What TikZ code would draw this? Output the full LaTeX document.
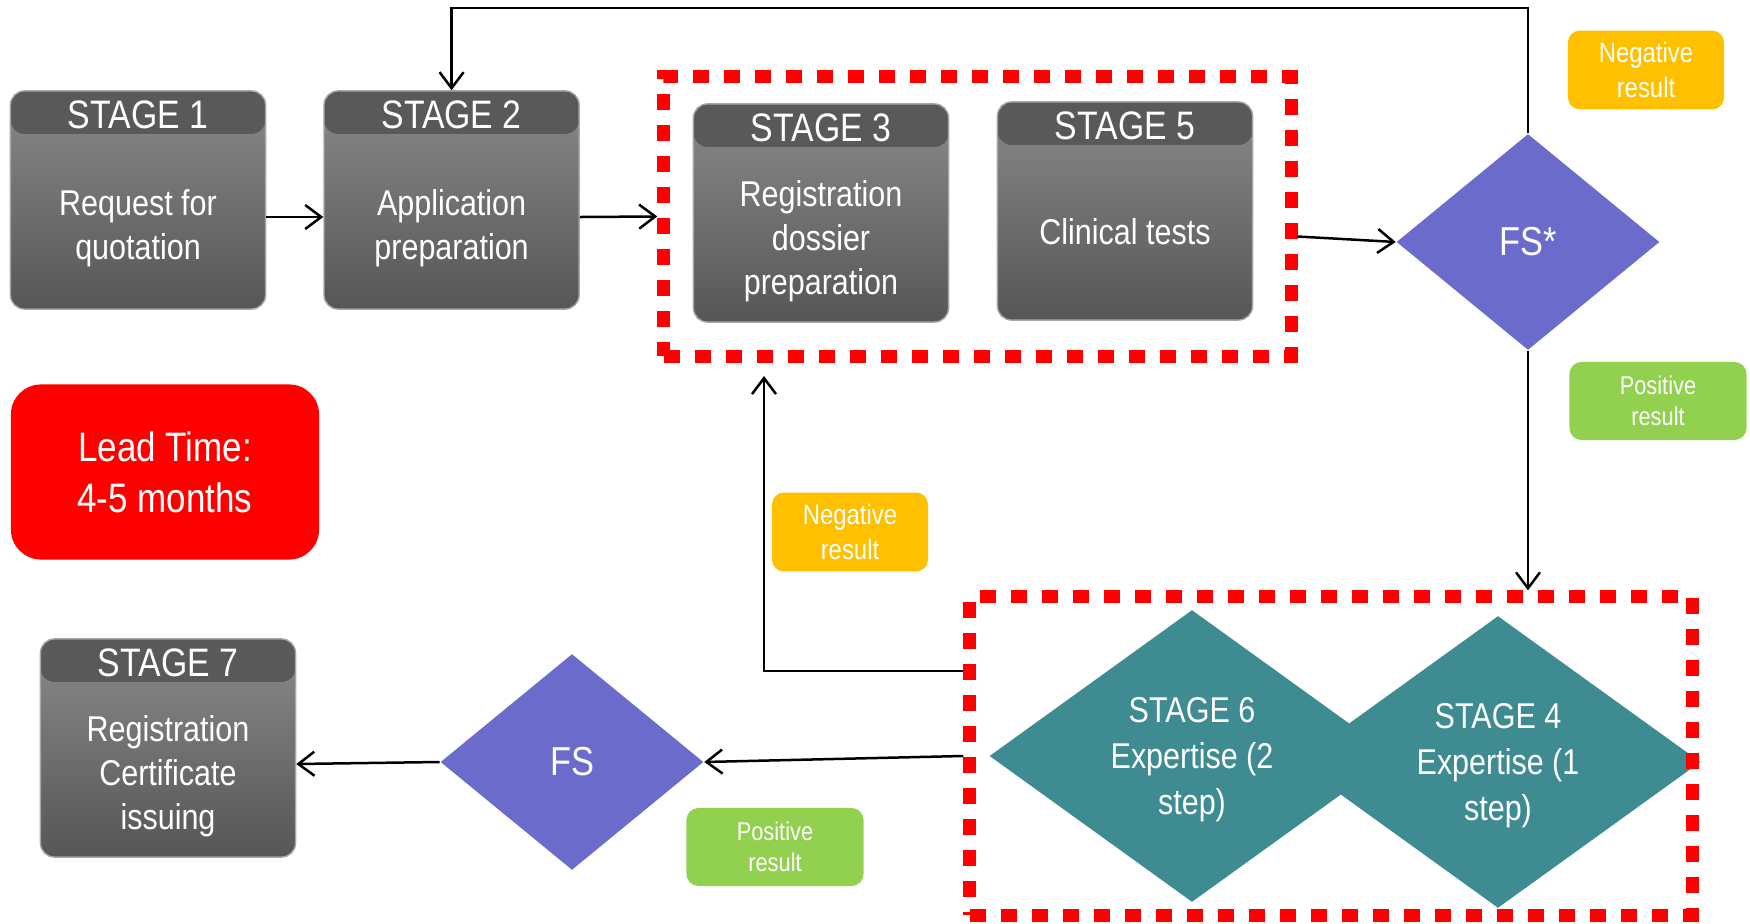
\documentclass[tikz,border=0pt]{standalone}
\usepackage{fontspec}
\setmainfont{Liberation Sans}[FakeStretch=0.85]
\usepackage{xcolor}
\usepackage{tikz}
\usetikzlibrary{shapes.geometric, arrows.meta, positioning, calc}

\definecolor{headgray}{HTML}{595959}
\definecolor{bodytop}{HTML}{8A8A8A}
\definecolor{bodybot}{HTML}{565656}
\definecolor{fsblue}{HTML}{6B6BCC}
\definecolor{expteal}{HTML}{3E8C92}
\definecolor{negorange}{HTML}{FFC000}
\definecolor{posgreen}{HTML}{92D050}

\begin{document}
\begin{tikzpicture}[
    x=0.01cm, y=-0.01cm,
    stage/.style={rectangle, rounded corners=4pt, draw=gray!70, line width=0.4pt, top color=bodytop, bottom color=bodybot, minimum width=2.55cm, minimum height=2.18cm, inner sep=0pt,
        path picture={\fill[headgray] (path picture bounding box.north west) rectangle ([yshift=-0.43cm]path picture bounding box.north east);}},
    stagehead/.style={text=white, minimum height=0.43cm, inner sep=0pt, yshift=-0.02cm, font=\fontsize{11.3}{13}\selectfont},
    stagetext/.style={text=white, align=center, inner sep=0pt, yshift=-0.05cm, font=\fontsize{10.2}{12.4}\selectfont},
    decision/.style={diamond, fill=fsblue, minimum width=2.63cm, minimum height=2.16cm, inner sep=0pt, text=white, font=\fontsize{11.5}{13}\selectfont},
    expert/.style={diamond, fill=expteal, minimum width=4.05cm, minimum height=2.92cm, inner sep=0pt, text=white, align=center, text depth=0pt, font=\fontsize{10.2}{13}\selectfont},
    group/.style={rectangle, draw=red, line width=0.13cm, dash pattern=on 0.16cm off 0.15cm, inner sep=0pt},
    negative/.style={rectangle, rounded corners=0.12cm, fill=negorange, text=white, align=center, minimum width=1.56cm, minimum height=0.77cm, font=\fontsize{8}{9.9}\selectfont},
    positive/.style={rectangle, rounded corners=0.12cm, fill=posgreen, text=white, align=center, minimum width=1.77cm, minimum height=0.78cm, font=\fontsize{7.3}{8.9}\selectfont},
    arrow/.style={-{Straight Barb[length=0.16cm, width=0.24cm]}, line width=0.025cm}
]
\useasboundingbox (0,0) rectangle (1750,924);

% Stages
\node[stage] (s1) at (138,200) {};
\node[stagehead, below=0pt of s1.north] (s1head) {STAGE 1};
\node[stagetext] (s1body) at ($(s1head.south)!0.5!(s1.south)$) {Request for\\quotation};

\node[stage, right=0.57cm of s1] (s2) {};
\node[stagehead, below=0pt of s2.north] (s2head) {STAGE 2};
\node[stagetext] (s2body) at ($(s2head.south)!0.5!(s2.south)$) {Application\\preparation};

\node[stage] (s3) at (821,213) {};
\node[stagehead, below=0pt of s3.north] (s3head) {STAGE 3};
\node[stagetext] (s3body) at ($(s3head.south)!0.5!(s3.south)$) {Registration\\dossier\\preparation};

\node[stage] (s5) at (1125,211) {};
\node[stagehead, below=0pt of s5.north] (s5head) {STAGE 5};
\node[stagetext, yshift=0.08cm] (s5body) at ($(s5head.south)!0.5!(s5.south)$) {Clinical tests};

\node[stage] (s7) at (168,748) {};
\node[stagehead, below=0pt of s7.north] (s7head) {STAGE 7};
\node[stagetext] (s7body) at ($(s7head.south)!0.5!(s7.south)$) {Registration\\Certificate\\issuing};

% Decisions
\node[decision] (fs1) at (1528,242) {FS*};
\node[decision] (fs2) at (572,762) {FS};

% Expertise
\node[expert] (s6) at (1192,756) {STAGE 6\\Expertise (2\\step)};
\node[expert] (s4) at (1498,762) {STAGE 4\\Expertise (1\\step)};

% Groups
\node[group, minimum width=6.27cm, minimum height=2.79cm] (grp1) at (977.5,216.5) {};
\node[group, minimum width=7.22cm, minimum height=3.18cm] (grp2) at (1331,756) {};

% Lead time
\node[rectangle, rounded corners=0.3cm, fill=red, text=white, align=center, minimum width=3.08cm, minimum height=1.75cm, text depth=0pt, font=\fontsize{11.7}{14.5}\selectfont] (lead) at (165,472) {Lead Time:\\4-5 months};

% Results
\node[negative] (neg1) at (1646,70) {Negative\\result};
\node[positive] (pos1) at (1658,401) {Positive\\result};
\node[negative] (neg2) at (850,532) {Negative\\result};
\node[positive] (pos2) at (775,847) {Positive\\result};

% Arrows
\coordinate (topline) at (0,8);
\coordinate (back) at (764,376);
\draw[arrow] ([yshift=-0.17cm]s1.east) -- ([yshift=-0.17cm]s2.west);
\draw[arrow] ([yshift=-0.17cm]s2.east) -- (grp1.west);
\draw[arrow] ([yshift=-0.2cm]grp1.east) -- (fs1.west);
\draw[arrow] (fs1.north) -- (fs1.north |- topline) -| (s2.north);
\draw[arrow] (fs1.south) -- (fs1.south |- grp2.north);
\draw[arrow] ([yshift=0.85cm]grp2.west) -| (back);
\draw[arrow] (grp2.west) -- (fs2.east);
\draw[arrow] (fs2.west) -- ([yshift=-0.16cm]s7.east);

\end{tikzpicture}
\end{document}
